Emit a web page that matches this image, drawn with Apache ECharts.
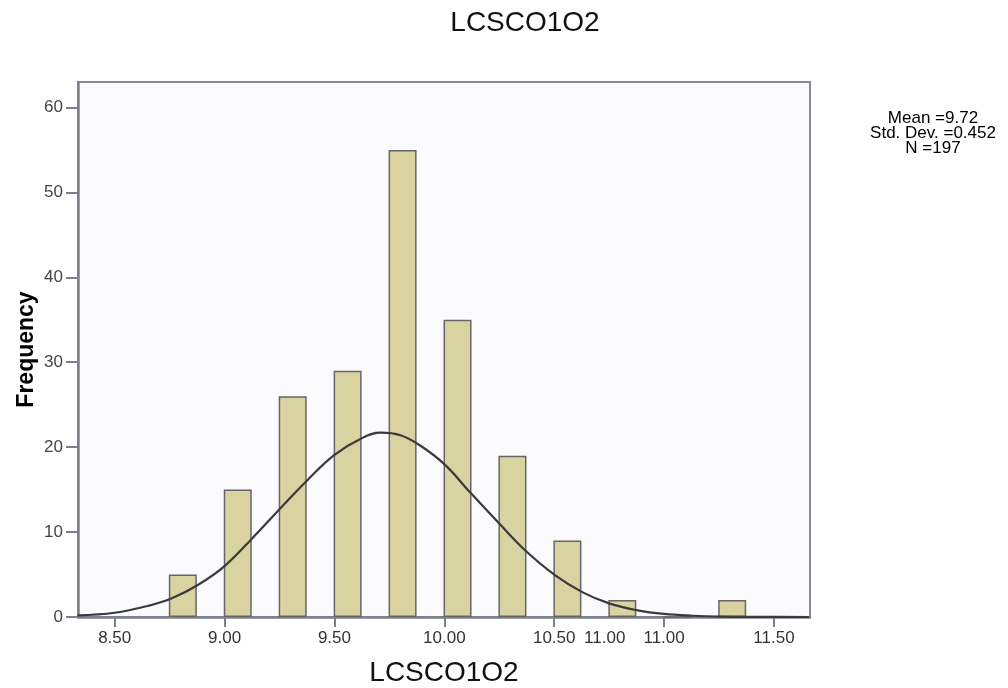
<!DOCTYPE html>
<html>
<head>
<meta charset="utf-8">
<script src="https://cdn.jsdelivr.net/npm/echarts@6/dist/echarts.min.js"></script>
<style>
html,body{margin:0;padding:0;background:#fff;}
#chart{width:1008px;height:688px;}
</style>
</head>
<body>
<div id="chart"></div>
<script>
// Histogram bins (bin centres) and counts
var binCenters = [8.81, 9.06, 9.31, 9.56, 9.81, 10.06, 10.31, 10.56, 10.81, 11.06, 11.31];
var frequencies = [5, 15, 26, 29, 55, 35, 19, 9, 2, 0, 2];

// Normal curve
var curveX = [8.33, 8.50, 8.65, 8.76, 8.88, 9.00, 9.12, 9.25, 9.38, 9.50, 9.62, 9.71, 9.80, 9.89, 10.00, 10.12, 10.25, 10.37, 10.50, 10.63, 10.75, 10.88, 11.00, 11.13, 11.25, 11.45, 11.66];
var curveY = [0.2, 0.5, 1.3, 2.2, 3.8, 6.0, 9.1, 12.7, 16.2, 19.1, 21.0, 21.7, 21.4, 20.2, 18.0, 14.6, 11.0, 7.8, 5.0, 2.9, 1.6, 0.78, 0.36, 0.15, 0.05, 0.01, 0.0];

// Axis ticks and labels (the original shows a stray "11.00" label between 10.50 and 11.00)
var yTickValues = [0, 10, 20, 30, 40, 50, 60];
var xTickValues = [8.5, 9.0, 9.5, 10.0, 10.5, 11.0, 11.5];
var xLabelValues = [8.5, 9.0, 9.5, 10.0, 10.5, 10.73, 11.0, 11.5];
var xLabelTexts = ['8.50', '9.00', '9.50', '10.00', '10.50', '11.00', '11.00', '11.50'];

var titleText = 'LCSCO1O2';
var xAxisName = 'LCSCO1O2';
var yAxisName = 'Frequency';
var statsLines = ['Mean =9.72', 'Std. Dev. =0.452', 'N =197'];

var chart = echarts.init(document.getElementById('chart'), null, {renderer: 'canvas'});
var FONT = '"Liberation Sans", Arial, Helvetica, sans-serif';

var barData = binCenters.map(function (c, i) { return [c, frequencies[i]]; });
var lineData = curveX.map(function (x, i) { return [x, curveY[i]]; });

chart.setOption({
  backgroundColor: '#ffffff',
  animation: false,
  title: {
    text: titleText,
    left: 520,
    top: 4,
    textAlign: 'center',
    textStyle: {fontFamily: FONT, fontSize: 28, fontWeight: 'normal', color: '#111'}
  },
  grid: {
    left: 78, right: 198, top: 82, bottom: 71,
    outerBoundsMode: 'none',
    containLabel: false,
    show: true,
    backgroundColor: '#fbfbfd',
    borderColor: '#868a96',
    borderWidth: 2
  },
  xAxis: {
    type: 'value',
    min: 8.333,
    max: 11.664,
    name: xAxisName,
    nameLocation: 'middle',
    nameGap: 42,
    nameMoveOverlap: false,
    nameTextStyle: {fontFamily: FONT, fontSize: 28, color: '#111'},
    axisLine: {show: true, onZero: false, lineStyle: {color: '#7b808c', width: 2.5}},
    axisTick: {show: true, customValues: xTickValues, length: 10, lineStyle: {color: '#7b808c', width: 2}},
    axisLabel: {
      customValues: xLabelValues,
      margin: 13,
      fontFamily: FONT, fontSize: 17, color: '#333',
      formatter: function (v) {
        for (var i = 0; i < xLabelValues.length; i++) {
          if (Math.abs(xLabelValues[i] - v) < 1e-6) return xLabelTexts[i];
        }
        return '';
      }
    },
    splitLine: {show: false}
  },
  yAxis: {
    type: 'value',
    min: 0,
    max: 63,
    name: yAxisName,
    nameLocation: 'middle',
    nameGap: 40,
    nameMoveOverlap: false,
    nameTextStyle: {fontFamily: FONT, fontSize: 23, fontWeight: 'bold', color: '#000'},
    axisLine: {show: true, lineStyle: {color: '#7b808c', width: 2.5}},
    axisTick: {show: true, customValues: yTickValues, length: 12, lineStyle: {color: '#7b808c', width: 2}},
    axisLabel: {customValues: yTickValues, margin: 15, fontFamily: FONT, fontSize: 17, color: '#444'},
    splitLine: {show: false}
  },
  series: [
    {
      type: 'bar',
      data: barData,
      barWidth: 28,
      itemStyle: {color: '#d8d3a0', borderColor: '#66666a', borderWidth: 1.5},
      silent: true
    },
    {
      type: 'line',
      data: lineData,
      smooth: 0.4,
      showSymbol: false,
      symbol: 'none',
      lineStyle: {color: '#3a3a3a', width: 2.2},
      silent: true,
      z: 5
    }
  ],
  graphic: [
    {
      type: 'text',
      x: 933,
      y: 111,
      style: {
        text: statsLines.join('\n'),
        textAlign: 'center',
        lineHeight: 15,
        font: '17px ' + FONT,
        fill: '#000'
      }
    }
  ]
});
</script>
</body>
</html>
